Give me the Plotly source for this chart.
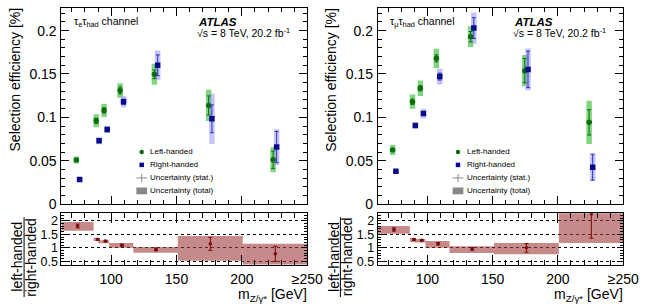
import plotly.graph_objects as go

# ---------------- data ----------------
x_left_pts = [73.4, 88.6, 94.6, 106.9, 133.1, 174.6, 223.9]
x_right_pts = [75.9, 90.8, 97.0, 109.5, 135.6, 177.1, 226.6]
x_ratio_pts = [74.4, 89.8, 95.7, 108.2, 134.3, 175.9, 225.6]
bin_lo = [62, 86.6, 90.3, 98.5, 117.0, 151.0, 200.7]
bin_hi = [86.6, 90.3, 98.5, 117.0, 151.0, 200.7, 250]

# tau_e tau_had channel
effL_e = [0.0508, 0.096, 0.108, 0.131, 0.1497, 0.1137, 0.0511]
statL_e = [0.0015, 0.003, 0.003, 0.004, 0.005, 0.011, 0.010]
totL_e = [0.004, 0.0075, 0.0075, 0.0084, 0.012, 0.018, 0.0145]
effR_e = [0.0283, 0.073, 0.086, 0.118, 0.160, 0.0983, 0.0657]
statR_e = [0.001, 0.002, 0.002, 0.003, 0.012, 0.016, 0.018]
totR_e = [0.002, 0.004, 0.004, 0.0065, 0.017, 0.029, 0.0206]
ratio_e = [1.81, 1.31, 1.25, 1.10, 0.94, 1.15, 0.78]
ratio_e_stat_up = [0.07, 0.03, 0.03, 0.04, 0.05, 0.24, 0.28]
ratio_e_stat_dn = [0.07, 0.03, 0.03, 0.04, 0.05, 0.24, 0.28]
ratio_e_band_lo = [1.63, 1.25, 1.17, 1.00, 0.82, 0.525, 0.34]
ratio_e_band_hi = [1.96, 1.37, 1.28, 1.18, 1.03, 1.44, 1.15]

# tau_mu tau_had channel
effL_m = [0.0624, 0.118, 0.1335, 0.168, 0.193, 0.1538, 0.0942]
statL_m = [0.0015, 0.003, 0.003, 0.004, 0.006, 0.014, 0.0146]
totL_m = [0.0058, 0.0082, 0.009, 0.011, 0.012, 0.018, 0.025]
effR_m = [0.0377, 0.0905, 0.1043, 0.147, 0.2029, 0.1553, 0.0425]
statR_m = [0.001, 0.002, 0.002, 0.004, 0.012, 0.021, 0.015]
totR_m = [0.002, 0.0035, 0.0056, 0.009, 0.018, 0.024, 0.0155]
ratio_m = [1.68, 1.31, 1.28, 1.15, 0.96, 1.0, 2.25]
ratio_m_stat_up = [0.06, 0.03, 0.03, 0.04, 0.05, 0.16, 0.5]
ratio_m_stat_dn = [0.06, 0.03, 0.03, 0.04, 0.05, 0.16, 0.89]
ratio_m_band_lo = [1.52, 1.22, 1.20, 1.00, 0.81, 0.76, 1.18]
ratio_m_band_hi = [1.81, 1.37, 1.33, 1.25, 1.06, 1.18, 2.6]

x_tickvals = [100, 150, 200, 250]
x_ticktext = ["100", "150", "200", "≥250"]

# ---------------- styling ----------------
W, H = 648, 307
FONT = "Liberation Sans, Arial, Helvetica, sans-serif"
GREEN = "#0b6e0b"
GREEN_BAND = "rgba(60,190,60,0.65)"
BLUE = "#0a0a8c"
BLUE_STAT = "#3030d0"
BLUE_BAND = "rgba(140,140,235,0.5)"
RED = "#7a0a0a"
RED_BAND = "rgba(160,60,60,0.6)"


def px(x):
    return x / W


def py(y):
    return 1 - y / H


fig = go.Figure()

panels = [
    dict(xa="x", ya="y", xr="x2", yr="y2",
         effL=effL_e, statL=statL_e, totL=totL_e,
         effR=effR_e, statR=statR_e, totR=totR_e,
         ratio=ratio_e, rup=ratio_e_stat_up, rdn=ratio_e_stat_dn,
         blo=ratio_e_band_lo, bhi=ratio_e_band_hi),
    dict(xa="x3", ya="y3", xr="x4", yr="y4",
         effL=effL_m, statL=statL_m, totL=totL_m,
         effR=effR_m, statR=statR_m, totR=totR_m,
         ratio=ratio_m, rup=ratio_m_stat_up, rdn=ratio_m_stat_dn,
         blo=ratio_m_band_lo, bhi=ratio_m_band_hi),
]

for p in panels:
    for xs, eff, tot, col in [(x_left_pts, p["effL"], p["totL"], GREEN_BAND),
                              (x_right_pts, p["effR"], p["totR"], BLUE_BAND)]:
        fig.add_trace(go.Scatter(
            x=xs, y=eff, mode="markers", xaxis=p["xa"], yaxis=p["ya"],
            marker=dict(size=1, color="rgba(0,0,0,0)"),
            error_y=dict(type="data", array=tot, color=col, thickness=5.5, width=0),
            showlegend=False, hoverinfo="skip"))
    fig.add_trace(go.Scatter(
        x=x_left_pts, y=p["effL"], mode="markers", xaxis=p["xa"], yaxis=p["ya"],
        marker=dict(symbol="circle", size=5.5, color=GREEN),
        error_y=dict(type="data", array=p["statL"], color=GREEN, thickness=1, width=2),
        showlegend=False))
    fig.add_trace(go.Scatter(
        x=x_right_pts, y=p["effR"], mode="markers", xaxis=p["xa"], yaxis=p["ya"],
        marker=dict(symbol="square", size=5.5, color=BLUE),
        error_y=dict(type="data", array=p["statR"], color=BLUE_STAT, thickness=1, width=2),
        showlegend=False))
    centers = [(a + b) / 2 for a, b in zip(bin_lo, bin_hi)]
    widths = [b - a for a, b in zip(bin_lo, bin_hi)]
    fig.add_trace(go.Bar(
        x=centers, width=widths, base=p["blo"],
        y=[h - l for h, l in zip(p["bhi"], p["blo"])],
        xaxis=p["xr"], yaxis=p["yr"], marker=dict(color=RED_BAND, line=dict(width=0)),
        showlegend=False))
    fig.add_trace(go.Scatter(
        x=x_ratio_pts, y=p["ratio"], mode="markers", xaxis=p["xr"], yaxis=p["yr"],
        marker=dict(size=3.5, color=RED),
        error_y=dict(type="data", symmetric=False, array=p["rup"], arrayminus=p["rdn"],
                     color=RED, thickness=1, width=2),
        cliponaxis=True, showlegend=False))

# ---------------- axes ----------------
main_dom = [py(209.5), py(8.3)]
ratio_dom = [py(271.7), py(219)]
left_dom = [px(63), px(315)]
right_dom = [px(387.3), px(639)]

common = dict(showline=True, linecolor="black", linewidth=1, mirror="allticks",
              ticks="inside", ticklen=8, tickcolor="black", tickwidth=1,
              showgrid=False, zeroline=False,
              tickfont=dict(family=FONT, size=14, color="black"))

for xa, ya, xr, yr, dom in [("xaxis", "yaxis", "xaxis2", "yaxis2", left_dom),
                            ("xaxis3", "yaxis3", "xaxis4", "yaxis4", right_dom)]:
    yname = ya.replace("axis", "")
    yrname = yr.replace("axis", "")
    xname = xa.replace("axis", "")
    xrname = xr.replace("axis", "")
    fig.layout[xa] = dict(common, domain=dom, range=[62, 250], anchor=yname,
                          tickvals=x_tickvals, showticklabels=False,
                          minor=dict(ticks="inside", ticklen=4, dtick=10, tick0=0,
                                     tickcolor="black"))
    fig.layout[ya] = dict(common, domain=main_dom, range=[0, 0.226], anchor=xname,
                          dtick=0.05, tick0=0, ticklabelstandoff=1,
                          minor=dict(ticks="inside", ticklen=4, dtick=0.01, tick0=0,
                                     tickcolor="black"))
    fig.layout[xr] = dict(common, domain=dom, range=[62, 250], anchor=yrname,
                          tickvals=x_tickvals, ticktext=x_ticktext, ticklen=10,
                          ticklabelstandoff=2,
                          minor=dict(ticks="inside", ticklen=5, dtick=10, tick0=0,
                                     tickcolor="black"))
    fig.layout[yr] = dict(common, domain=ratio_dom, range=[0.38, 2.28], anchor=xrname,
                          tickvals=[0.5, 1, 1.5, 2], ticktext=["0.5", "1", "1.5", "2"],
                          tickfont=dict(family=FONT, size=12.5, color="black"),
                          ticklabelstandoff=0,
                          ticklen=6, showgrid=True, gridcolor="black", gridwidth=1,
                          griddash="dot",
                          minor=dict(ticks="inside", ticklen=3, dtick=0.1, tick0=0,
                                     tickcolor="black", showgrid=False))

# ---------------- annotations ----------------
ann = []
shapes = []
for off, chan in [(0, "τ<sub>e</sub>τ<sub>had</sub> channel"),
                  (324.3, "τ<sub>μ</sub>τ<sub>had</sub> channel")]:
    ann.append(dict(x=px(74 + off), y=py(23), xref="paper", yref="paper",
                    text=chan, showarrow=False, xanchor="left", yanchor="middle",
                    font=dict(family=FONT, size=10.5, color="black")))
    ann.append(dict(x=px(201 + off), y=py(22.5), xref="paper", yref="paper",
                    text="<b><i>ATLAS</i></b>", showarrow=False, xanchor="left",
                    yanchor="middle", font=dict(family=FONT, size=11.5, color="black")))
    ann.append(dict(x=px(200 + off), y=py(33.5), xref="paper", yref="paper",
                    text="√s = 8 TeV, 20.2 fb<sup>-1</sup>", showarrow=False,
                    xanchor="left", yanchor="middle",
                    font=dict(family=FONT, size=10.5, color="black")))
    ann.append(dict(x=px(15 + off), y=py(82), xref="paper", yref="paper",
                    text="Selection efficiency [%]", textangle=-90, showarrow=False,
                    xanchor="center", yanchor="middle",
                    font=dict(family=FONT, size=14, color="black")))
    ann.append(dict(x=px(18 + off), y=py(264), xref="paper", yref="paper",
                    text="left-handed", textangle=-90, showarrow=False,
                    xanchor="center", yanchor="middle",
                    font=dict(family=FONT, size=14, color="black")))
    ann.append(dict(x=px(31.5 + off), y=py(264), xref="paper", yref="paper",
                    text="right-handed", textangle=-90, showarrow=False,
                    xanchor="center", yanchor="middle",
                    font=dict(family=FONT, size=14, color="black")))
    shapes.append(dict(type="line", xref="paper", yref="paper",
                       x0=px(24.7 + off), x1=px(24.7 + off), y0=py(223), y1=py(305),
                       line=dict(color="black", width=1)))
    ann.append(dict(x=px(316 + off), y=py(313), xref="paper", yref="paper",
                    text="m<sub>Z/γ*</sub> [GeV]", showarrow=False,
                    xanchor="right", yanchor="bottom", borderpad=0,
                    font=dict(family=FONT, size=14, color="black")))
    leg_items = ["Left-handed", "Right-handed", "Uncertainty (stat.)", "Uncertainty (total)"]
    leg_y = [156, 169.3, 182.7, 196]
    for t, yy in zip(leg_items, leg_y):
        ann.append(dict(x=px(152 + off), y=py(yy), xref="paper", yref="paper",
                        text=t, showarrow=False, xanchor="left", yanchor="middle",
                        font=dict(family=FONT, size=8, color="black")))
    cx = 145.3 + off
    shapes.append(dict(type="circle", xref="paper", yref="paper",
                       x0=px(cx - 2.3), x1=px(cx + 2.3), y0=py(156 + 2.3), y1=py(156 - 2.3),
                       fillcolor=GREEN, line=dict(width=0)))
    shapes.append(dict(type="rect", xref="paper", yref="paper",
                       x0=px(cx - 2.3), x1=px(cx + 2.3), y0=py(169.3 + 2.3), y1=py(169.3 - 2.3),
                       fillcolor=BLUE, line=dict(width=0)))
    shapes.append(dict(type="line", xref="paper", yref="paper",
                       x0=px(cx - 5.5), x1=px(cx + 5.5), y0=py(182.7), y1=py(182.7),
                       line=dict(color="#888888", width=1)))
    shapes.append(dict(type="line", xref="paper", yref="paper",
                       x0=px(cx), x1=px(cx), y0=py(178.5), y1=py(187),
                       line=dict(color="#888888", width=1)))
    shapes.append(dict(type="rect", xref="paper", yref="paper",
                       x0=px(cx - 5.5), x1=px(cx + 5.5), y0=py(199.5), y1=py(192.5),
                       fillcolor="#888888", line=dict(width=0)))

fig.update_layout(
    width=W, height=H, margin=dict(l=0, r=0, t=0, b=0),
    paper_bgcolor="white", plot_bgcolor="white",
    annotations=ann, shapes=shapes, barmode="overlay",
    font=dict(family=FONT, color="black"),
)

fig.write_html("out.html")
